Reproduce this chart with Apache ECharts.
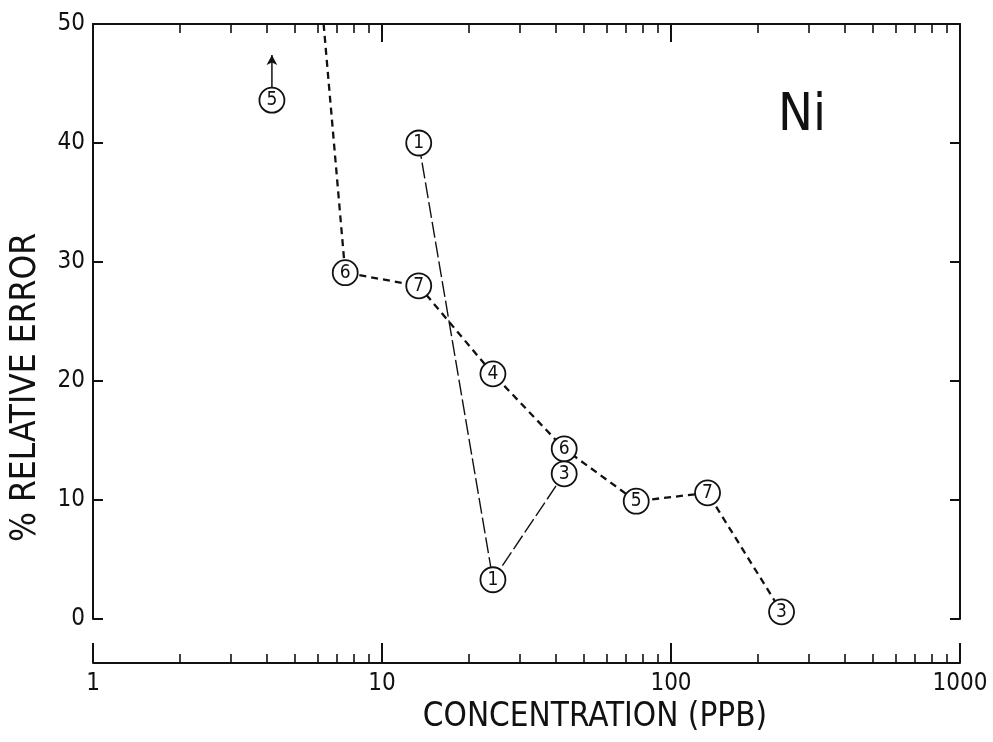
<!DOCTYPE html>
<html><head><meta charset="utf-8">
<script src="https://cdn.jsdelivr.net/npm/echarts@6/dist/echarts.min.js"></script>
<style>html,body{margin:0;padding:0;background:#fff}#c{width:993px;height:742px}</style>
</head><body><div id="c"></div>
<script>
// ---- data ----
const xMinorTicks = [2,3,4,5,6,7,8,9,20,30,40,50,60,70,80,90,200,300,400,500,600,700,800,900];

// short-dash series (starts off the top of the plot)
const shortDashX = [6.28, 7.46, 13.4, 24.2, 42.7, 75.8, 133.8, 241.3];
const shortDashY = [50, 29.1, 28.0, 20.6, 14.3, 9.9, 10.6, 0.6];
const shortDashLabels = ['', '6', '7', '4', '6', '5', '7', '3'];

// long-dash series
const longDashX = [13.4, 24.2, 42.7];
const longDashY = [40.0, 3.3, 12.2];
const longDashLabels = ['1', '1', '3'];

// isolated point with upward arrow (value off scale)
const loneX = [4.16];
const loneY = [43.6];
const loneLabels = ['5'];
const arrowY = [44.7, 47.4];

// ---- styles ----
const FONT = "'DejaVu Sans Condensed','Liberation Sans Narrow','Roboto Condensed','DejaVu Sans',sans-serif";
const INK = '#111';

function pts(xs, ys, labels) {
  return xs.map((x, i) => ({
    name: labels[i],
    value: [x, ys[i]],
    symbol: labels[i] ? 'circle' : 'none',
    label: { show: !!labels[i] }
  }));
}

const circleItem = { color: '#fff', borderColor: INK, borderWidth: 1.8, opacity: 1 };
const circleLabel = { show: true, position: 'inside', formatter: '{b}', color: INK, fontSize: 19, fontFamily: FONT };
const lineAx = { show: true, onZero: false, lineStyle: { color: INK, width: 2 } };
const noLineAx = { show: false, onZero: false };

const chart = echarts.init(document.getElementById('c'), null, { renderer: 'canvas' });
chart.setOption({
  animation: false,
  backgroundColor: '#fff',
  grid: { left: 91, right: 33, top: 24, bottom: 123, containLabel: false },
  graphic: [{
    type: 'text', left: 778, top: 90,
    style: { text: 'Ni', font: "52px " + FONT, fill: INK }
  }],
  xAxis: [
    {
      type: 'log', logBase: 10, min: 1, max: 1000, position: 'bottom', offset: 44,
      axisLine: lineAx,
      axisTick: { show: true, inside: true, length: 20, lineStyle: { color: INK, width: 2 } },
      axisLabel: { show: true, color: INK, fontSize: 24, fontFamily: FONT, margin: 9, formatter: v => String(v) },
      splitLine: { show: false },
      name: 'CONCENTRATION (PPB)', nameLocation: 'middle', nameGap: 38,
      nameTextStyle: { color: INK, fontSize: 33, fontFamily: FONT, padding: [0, 0, 0, 137] }
    },
    {
      type: 'log', logBase: 10, min: 1, max: 1000, position: 'top',
      axisLine: lineAx,
      axisTick: { show: true, inside: true, length: 18, lineStyle: { color: INK, width: 2 } },
      axisLabel: { show: false }, splitLine: { show: false }
    },
    {
      type: 'log', logBase: 10, min: 1, max: 1000, position: 'bottom', offset: 44,
      axisLine: noLineAx,
      axisTick: { show: true, inside: true, length: 9, customValues: xMinorTicks, lineStyle: { color: INK, width: 1.6 } },
      axisLabel: { show: false }, splitLine: { show: false }
    },
    {
      type: 'log', logBase: 10, min: 1, max: 1000, position: 'top',
      axisLine: noLineAx,
      axisTick: { show: true, inside: true, length: 9, customValues: xMinorTicks, lineStyle: { color: INK, width: 1.6 } },
      axisLabel: { show: false }, splitLine: { show: false }
    }
  ],
  yAxis: [
    {
      type: 'value', min: 0, max: 50, interval: 10, position: 'left',
      axisLine: lineAx,
      axisTick: { show: true, inside: true, length: 10, lineStyle: { color: INK, width: 2 } },
      axisLabel: { show: true, color: INK, fontSize: 24, fontFamily: FONT, margin: 8 },
      splitLine: { show: false },
      name: '% RELATIVE ERROR', nameLocation: 'middle', nameRotate: 90, nameGap: 50,
      nameTextStyle: { color: INK, fontSize: 35, fontFamily: FONT, padding: [0, 132, 0, 0] }
    },
    {
      type: 'value', min: 0, max: 50, interval: 10, position: 'right',
      axisLine: lineAx,
      axisTick: { show: true, inside: true, length: 10, lineStyle: { color: INK, width: 2 } },
      axisLabel: { show: false }, splitLine: { show: false }
    }
  ],
  series: [
    {
      type: 'line', xAxisIndex: 0, yAxisIndex: 0,
      data: pts(shortDashX, shortDashY, shortDashLabels),
      symbolSize: 25,
      lineStyle: { color: INK, width: 2.3, type: [7, 5] },
      itemStyle: circleItem, label: circleLabel, z: 3
    },
    {
      type: 'line', xAxisIndex: 0, yAxisIndex: 0,
      data: pts(longDashX, longDashY, longDashLabels),
      symbolSize: 25,
      lineStyle: { color: INK, width: 1.4, type: [16, 4] },
      itemStyle: circleItem, label: circleLabel, z: 4
    },
    {
      type: 'line', xAxisIndex: 0, yAxisIndex: 0,
      data: [
        { value: [loneX[0], arrowY[0]], symbol: 'none' },
        { value: [loneX[0], arrowY[1]], symbol: 'arrow', symbolSize: [8, 10] }
      ],
      lineStyle: { color: INK, width: 1.5, type: 'solid' },
      itemStyle: { color: INK }, z: 2
    },
    {
      type: 'scatter', xAxisIndex: 0, yAxisIndex: 0,
      data: pts(loneX, loneY, loneLabels),
      symbolSize: 25,
      itemStyle: circleItem, label: circleLabel, z: 4
    }
  ]
});
</script>
</body></html>
